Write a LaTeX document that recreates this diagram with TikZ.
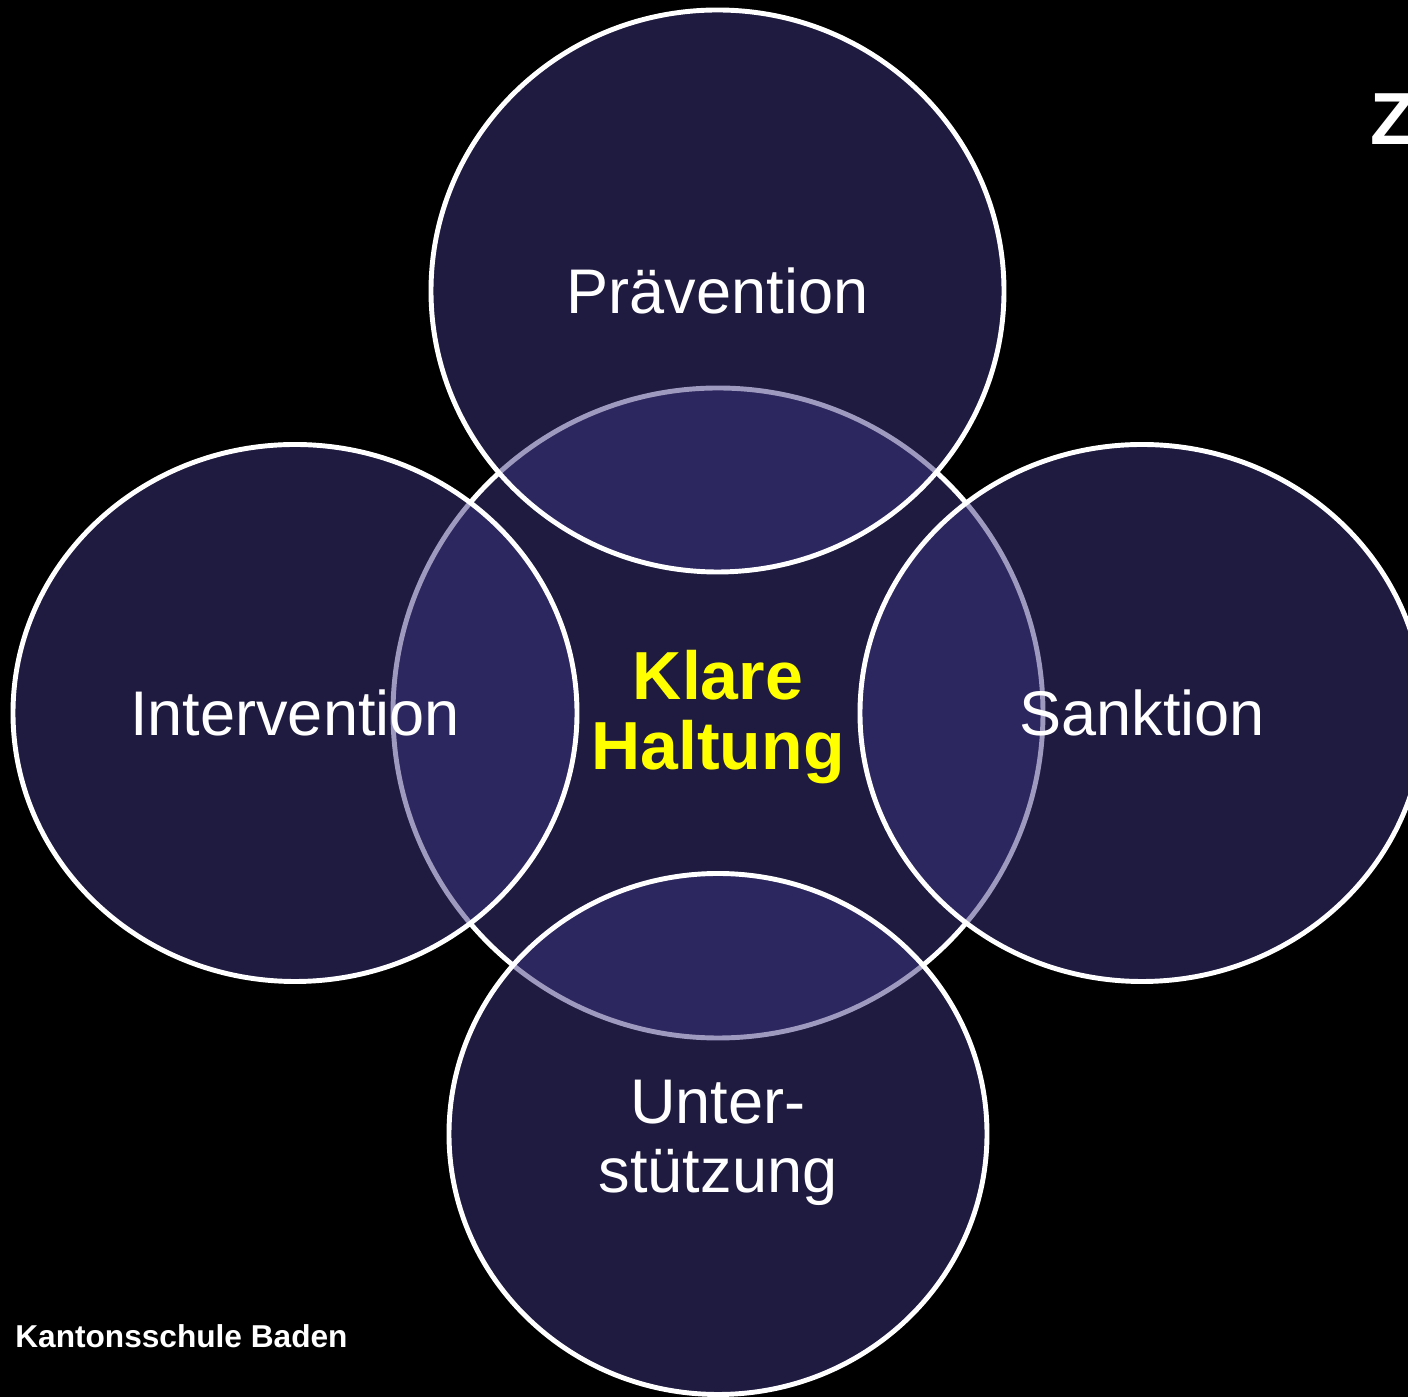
\documentclass[tikz,border=0pt]{standalone}
\usepackage{xcolor}
\usepackage{fontspec}
\setmainfont{Liberation Sans}
\usepackage{tikz}
\usetikzlibrary{shapes.geometric}
\usetikzlibrary{calc}

\definecolor{ringfill}{RGB}{60,52,128}
\definecolor{klar}{RGB}{255,255,0}

\begin{document}
\begin{tikzpicture}
		\fill [black] (0, 0) rectangle (28.16, 27.94);
		\useasboundingbox (0, 0) rectangle (28.16, 27.94);

		\begin{scope}[every node/.style={ellipse, draw = white, line width = 2.8pt, fill = ringfill, fill opacity = 0.5, text opacity = 1, inner sep = 0pt, text = white, font = \fontsize{35.9}{38.3}\selectfont}]
		\node (haltung) [minimum width = 13cm, minimum height = 13cm, text = klar, align = center, text height = 73pt, font = \bfseries\fontsize{38.7}{39.8}\selectfont] at (14.36, 13.68) {Klare\\Haltung};

		\node (praevention) [minimum width = 11.46cm, minimum height = 11.24cm] at (14.35, 22.12) {Prävention};
		\node (intervention) [minimum width = 11.28cm, minimum height = 10.74cm] at (5.9, 13.68) {Intervention};
		\node (sanktion) [minimum width = 11.28cm, minimum height = 10.74cm] at (22.84, 13.68) {Sanktion};
		\node (unterstuetzung) [minimum width = 10.76cm, minimum height = 10.42cm, align = center, text height = 74pt, font = \fontsize{35.9}{39.5}\selectfont] at (14.36, 5.26) {Unter-\\stützung};
		\end{scope}

		\begin{scope}[every node/.style={anchor = base west, inner sep = 0pt, text = white}]
		\node (schule) [font = \bfseries\fontsize{18}{22}\selectfont] at (0.3, 0.98) {Kantonsschule Baden};
		\node (titel) [font = \bfseries\fontsize{42}{50}\selectfont] at (27.4, 25.04) {Z};
		\end{scope}

\end{tikzpicture}
\end{document}
